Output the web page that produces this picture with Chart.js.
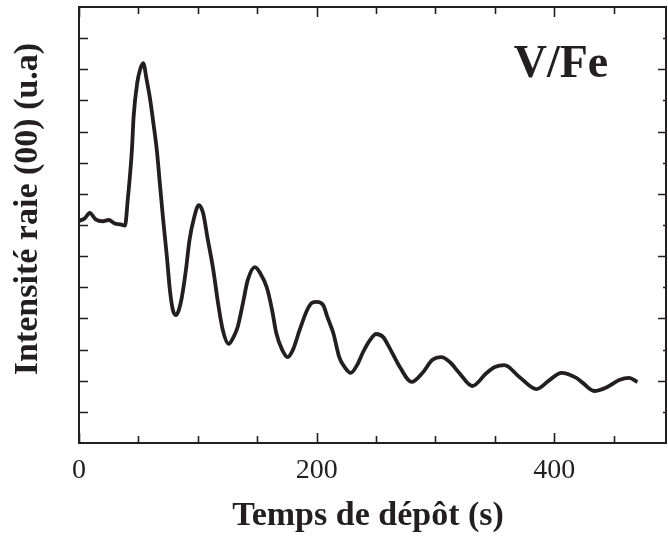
<!DOCTYPE html>
<html>
<head>
<meta charset="utf-8">
<script src="https://cdn.jsdelivr.net/npm/chart.js@4/dist/chart.umd.min.js"></script>
<style>
  html, body { margin:0; padding:0; background:#fff; }
  #wrap { width:668px; height:536px; }
</style>
</head>
<body>
<div id="wrap"><canvas id="c" width="668" height="536"></canvas></div>
<script>
// deposition time (s) and (00) streak intensity (a.u.)
const times = [0, 5, 9, 14, 20, 25, 30, 35, 38.7, 41, 44.5, 46, 49, 51.5, 54, 57, 60, 62.5, 65.5, 68, 70.6, 74, 76.5, 79, 81.5, 84, 86.6, 90, 93, 97, 100.8, 104.4, 108, 113, 117, 121, 126, 130, 133.6, 138, 142, 148, 152.4, 158, 162.5, 166, 171, 175.6, 180, 185.7, 192, 196, 200, 205.5, 209, 214, 219, 224, 228.6, 234, 238.7, 245, 250, 256, 261, 270, 280, 289, 297.5, 305, 312, 320, 331, 343, 350, 358, 370.6, 385, 396, 406, 418.5, 424, 433.6, 444.6, 454.6, 463, 470];
const intens = [7.13, 7.22, 7.39, 7.18, 7.12, 7.16, 7.05, 7.02, 6.98, 7.8, 9.4, 10.5, 11.56, 12.0, 12.2, 11.65, 11.0, 10.3, 9.4, 8.35, 7.26, 5.97, 4.91, 4.27, 4.11, 4.27, 4.69, 5.56, 6.52, 7.26, 7.64, 7.39, 6.62, 5.56, 4.5, 3.63, 3.18, 3.4, 3.73, 4.5, 5.23, 5.65, 5.46, 5.0, 4.27, 3.53, 2.99, 2.76, 2.99, 3.63, 4.27, 4.5, 4.53, 4.43, 4.05, 3.53, 2.76, 2.41, 2.25, 2.5, 2.89, 3.31, 3.5, 3.4, 3.08, 2.44, 1.96, 2.25, 2.67, 2.76, 2.6, 2.25, 1.83, 2.25, 2.44, 2.5, 2.12, 1.73, 2.02, 2.25, 2.09, 1.93, 1.67, 1.8, 2.02, 2.09, 1.96];

const xTicks = [0, 50, 100, 150, 200, 250, 300, 350, 400, 450];
const xLabels = [0, 200, 400];
const yTicks = [1, 2, 3, 4, 5, 6, 7, 8, 9, 10, 11, 12, 13];
const yMajor = [2, 4, 6, 8, 10, 12];

const title = 'V/Fe';
const xTitle = 'Temps de dépôt (s)';
const yTitle = 'Intensité raie (00) (u.a)';

const ink = '#231f20';
const serif = '"Liberation Serif", "Times New Roman", serif';

// frame, inward ticks, axis titles and the label in the corner
const decor = {
  id: 'decor',
  afterDraw(chart){
    const {ctx, chartArea:a, scales:{x, y}} = chart;
    ctx.save();
    ctx.strokeStyle = ink;
    ctx.lineWidth = 2;
    ctx.strokeRect(a.left, a.top, a.right - a.left, a.bottom - a.top);

    ctx.lineWidth = 1.6;
    ctx.beginPath();
    xTicks.forEach(v=>{
      const px = Math.round(x.getPixelForValue(v)) + 0.5;
      const len = xLabels.includes(v) ? 10 : 7;
      ctx.moveTo(px, a.bottom); ctx.lineTo(px, a.bottom - len);
      ctx.moveTo(px, a.top); ctx.lineTo(px, a.top + len);
    });
    yTicks.forEach(v=>{
      const py = Math.round(y.getPixelForValue(v)) + 0.5;
      ctx.moveTo(a.left, py); ctx.lineTo(a.left + 9, py);
      const r = yMajor.includes(v) ? 8 : 3;
      ctx.moveTo(a.right, py); ctx.lineTo(a.right - r, py);
    });
    ctx.stroke();

    ctx.fillStyle = ink;
    ctx.textAlign = 'center';
    ctx.textBaseline = 'middle';
    ctx.font = 'bold 34px ' + serif;
    ctx.fillText(xTitle, 368, 516);

    ctx.save();
    ctx.translate(28, 209);
    ctx.rotate(-Math.PI/2);
    ctx.fillText(yTitle, 0, 0);
    ctx.restore();

    ctx.textBaseline = 'alphabetic';
    ctx.font = 'bold 46px ' + serif;
    ctx.fillText(title, 561, 77);
    ctx.restore();
  }
};

new Chart(document.getElementById('c'), {
  type: 'line',
  data: {
    datasets: [{
      data: times.map((t, i) => ({x: t, y: intens[i]})),
      borderColor: ink,
      borderWidth: 3.8,
      pointRadius: 0,
      fill: false,
      cubicInterpolationMode: 'monotone'
    }]
  },
  options: {
    responsive: false,
    animation: false,
    layout: { padding: { top: 7, right: 2, left: 0, bottom: 0 } },
    plugins: { legend: { display: false }, tooltip: { enabled: false } },
    scales: {
      x: {
        type: 'linear', min: 0, max: 494,
        border: { display: false },
        grid: { display: false, drawTicks: false },
        ticks: {
          stepSize: 50, padding: 11, autoSkip: false, maxRotation: 0,
          color: ink, font: { family: serif, size: 28 },
          callback: v => xLabels.includes(v) ? String(v) : ''
        },
        afterFit: s => { s.height = 93; s.paddingLeft = 0; s.paddingRight = 0; }
      },
      y: {
        min: 0, max: 14,
        border: { display: false },
        grid: { display: false, drawTicks: false },
        ticks: { display: false },
        afterFit: s => { s.width = 79; }
      }
    }
  },
  plugins: [decor]
});
</script>
</body>
</html>
